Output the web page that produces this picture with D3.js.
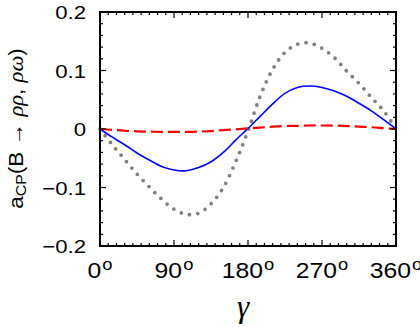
<!DOCTYPE html>
<html>
<head>
<meta charset="utf-8">
<script src="https://cdn.jsdelivr.net/npm/d3@7"></script>
<style>
  html, body { margin: 0; padding: 0; background: #fff; }
  svg { display: block; font-family: "Liberation Sans", Arial, sans-serif; }
</style>
</head>
<body>
<svg id="chart" width="420" height="327"></svg>
<script>
// ── Data ─────────────────────────────────────────────────────────────────────
const gammaDeg = [0, 15, 30, 45, 60, 75, 90, 105, 120, 135, 150, 165, 180,
                  195, 210, 225, 240, 255, 270, 285, 300, 315, 330, 345, 360];
const dottedGray = [0, -0.027, -0.052, -0.077, -0.099, -0.120, -0.137, -0.146, -0.144,
                    -0.128, -0.100, -0.056, -0.003, 0.057, 0.102, 0.131, 0.145, 0.147,
                    0.138, 0.122, 0.099, 0.078, 0.054, 0.031, 0];
const solidBlue = [0, -0.014, -0.027, -0.041, -0.053, -0.064, -0.070, -0.0713, -0.066,
                   -0.056, -0.040, -0.019, 0.001, 0.022, 0.043, 0.061, 0.071, 0.0735,
                   0.071, 0.065, 0.056, 0.044, 0.031, 0.016, 0];
const dashedRed = [0, -0.0015, -0.003, -0.004, -0.0045, -0.005, -0.005, -0.005, -0.0045,
                   -0.0035, -0.002, -0.0005, 0.001, 0.0025, 0.004, 0.005, 0.0055, 0.006,
                   0.006, 0.0058, 0.005, 0.004, 0.003, 0.0015, 0];
const xTicks = [0, 90, 180, 270, 360];
const yTicks = [-0.2, -0.1, 0, 0.1, 0.2];

// ── Layout ───────────────────────────────────────────────────────────────────
const M = { left: 100, right: 396, top: 12, bottom: 246 };
const svg = d3.select('#chart');

const x = d3.scaleLinear().domain([0, 360]).range([M.left, M.right]);
const y = d3.scaleLinear().domain([-0.2, 0.2]).range([M.bottom, M.top]);

// ── Curves ───────────────────────────────────────────────────────────────────
const line = d3.line()
  .x((d, i) => x(gammaDeg[i]))
  .y(d => y(d))
  .curve(d3.curveCatmullRom);

const plot = svg.append('g');

plot.append('path').datum(dottedGray)
  .attr('d', line).attr('fill', 'none')
  .attr('stroke', '#808080').attr('stroke-width', 3.8)
  .attr('stroke-linecap', 'round').attr('stroke-dasharray', '0,8.4');

plot.append('path').datum(solidBlue)
  .attr('d', line).attr('fill', 'none')
  .attr('stroke', '#0000ff').attr('stroke-width', 1.6);

plot.append('path').datum(dashedRed)
  .attr('d', line).attr('fill', 'none')
  .attr('stroke', '#ff0000').attr('stroke-width', 2.2)
  .attr('stroke-dasharray', '12,5');

// ── Frame & ticks (inward on all sides) ──────────────────────────────────────
const frame = svg.append('g').attr('stroke', '#000').attr('fill', 'none');

d3.range(0, 361, 10).forEach(v => {
  const len = v % 90 === 0 ? 6 : 3;
  frame.append('line').attr('x1', x(v)).attr('x2', x(v))
    .attr('y1', M.bottom).attr('y2', M.bottom - len).attr('stroke-width', 1.2);
  frame.append('line').attr('x1', x(v)).attr('x2', x(v))
    .attr('y1', M.top).attr('y2', M.top + len).attr('stroke-width', 1.2);
});

d3.range(-10, 11).forEach(k => {
  const v = k * 0.02;
  const len = k % 5 === 0 ? 6 : 3;
  frame.append('line').attr('y1', y(v)).attr('y2', y(v))
    .attr('x1', M.left).attr('x2', M.left + len).attr('stroke-width', 1.2);
  frame.append('line').attr('y1', y(v)).attr('y2', y(v))
    .attr('x1', M.right).attr('x2', M.right - len).attr('stroke-width', 1.2);
});

frame.append('rect')
  .attr('x', M.left).attr('y', M.top)
  .attr('width', M.right - M.left).attr('height', M.bottom - M.top)
  .attr('stroke-width', 2);

// ── Tick labels (glyphs in the original are a bit wide, so stretch x) ────────
svg.append('g').selectAll('text').data(yTicks).join('text')
  .attr('transform', d => `translate(86,${y(d) + 7.3}) scale(1.2,1)`)
  .attr('text-anchor', 'end').attr('font-size', 18.5)
  .text(d => d === 0 ? '0' : d3.format('.1f')(d).replace('-', '\u2212'));

const xl = svg.append('g').selectAll('text').data(xTicks).join('text')
  .attr('transform', d => `translate(${x(d)},277.5) scale(1.15,1)`)
  .attr('text-anchor', 'middle').attr('font-size', 21.5);
xl.append('tspan').text(d => d);
xl.append('tspan').attr('font-size', 16).attr('dx', 1).attr('dy', -7.5).text('o');

// ── Axis titles ──────────────────────────────────────────────────────────────
svg.append('text')
  .attr('x', 243).attr('y', 317)
  .attr('text-anchor', 'middle').attr('font-size', 31)
  .attr('font-family', '"Liberation Serif", "DejaVu Serif", serif')
  .attr('font-style', 'italic')
  .text('\u03b3');

const yt = svg.append('text')
  .attr('transform', 'translate(23,128.5) rotate(-90) scale(1.1,1)')
  .attr('text-anchor', 'middle').attr('font-size', 20.5);
yt.append('tspan').text('a');
yt.append('tspan').attr('font-size', 14.5).attr('dy', 3).text('CP');
yt.append('tspan').attr('dy', -3).text('(B \u2192 ');
yt.append('tspan').attr('font-family', '"Liberation Serif", serif')
  .attr('font-style', 'italic').text('\u03c1\u03c1');
yt.append('tspan').text(', ');
yt.append('tspan').attr('font-family', '"Liberation Serif", serif')
  .attr('font-style', 'italic').text('\u03c1\u03c9');
yt.append('tspan').text(')');
</script>
</body>
</html>
